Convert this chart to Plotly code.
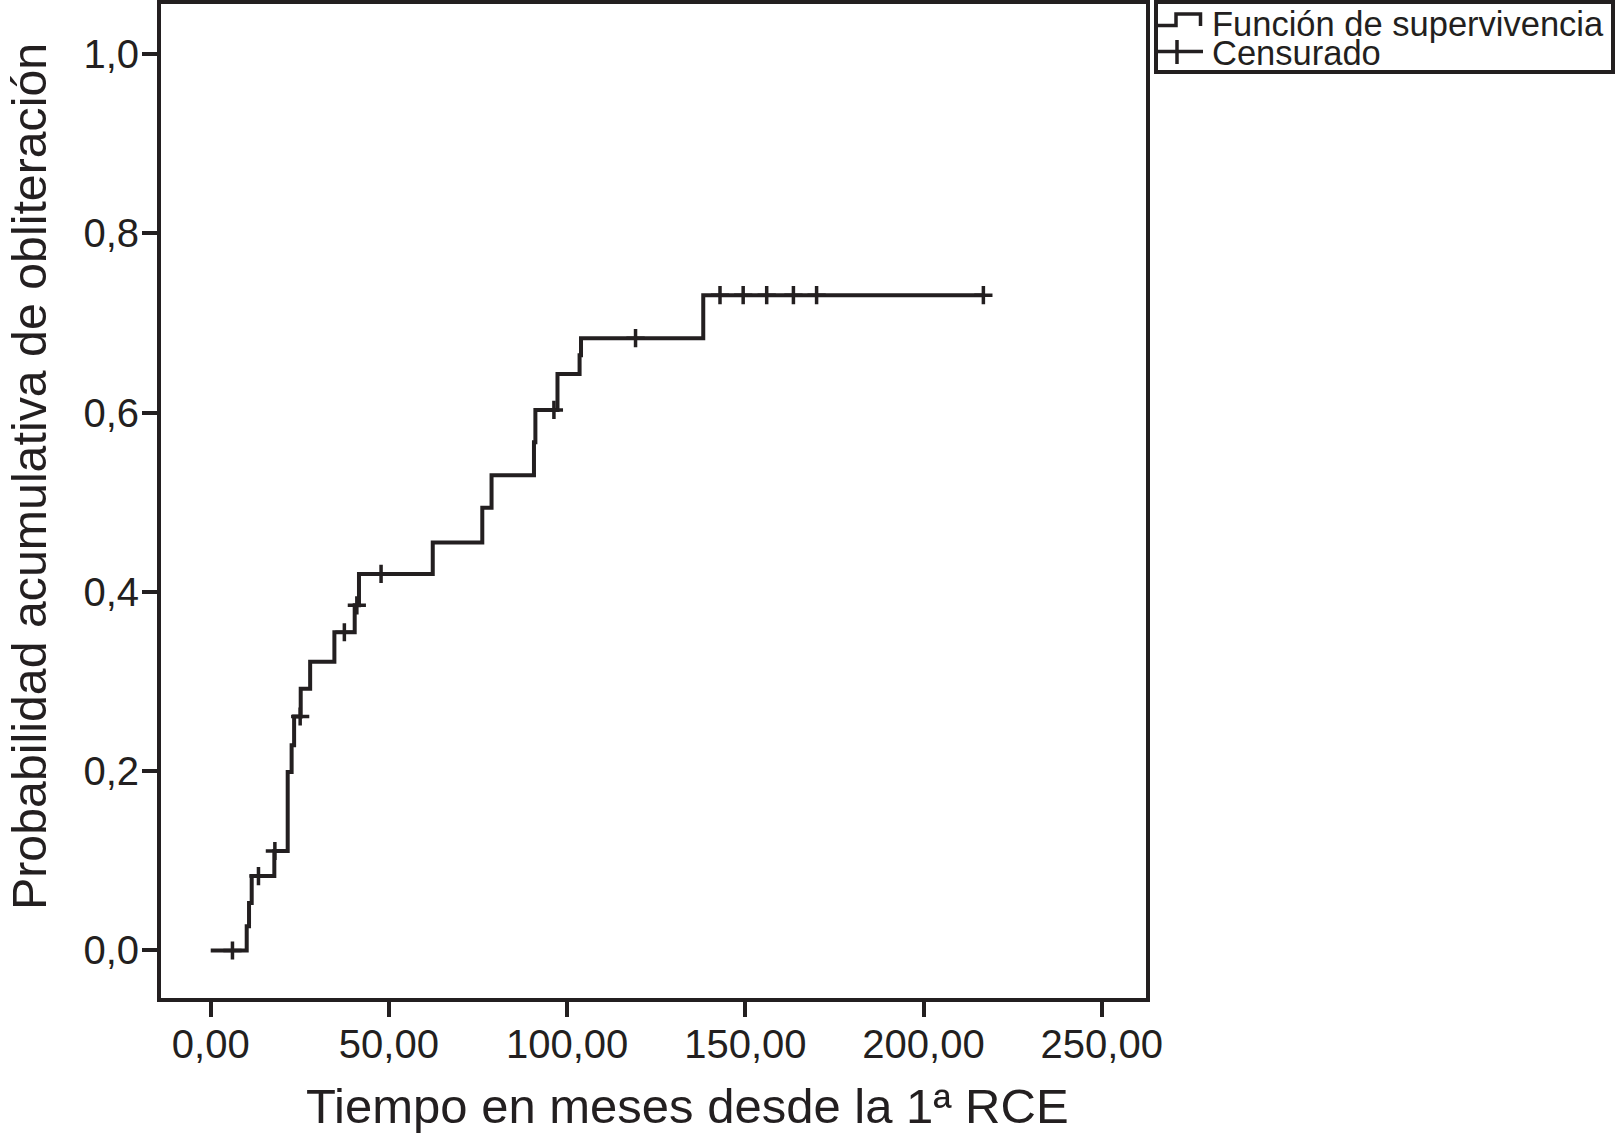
import plotly.graph_objects as go

# ---- data ----
step_times = [0.0, 10.1, 10.75, 11.5, 17.85, 21.6, 22.7, 23.4, 25.25, 27.9, 34.7,
              40.4, 41.6, 62.3, 76.2, 78.8, 90.7, 91.1, 97.3, 103.5, 103.9, 138.2]
step_probs = [0.0, 0.027, 0.053, 0.083, 0.111, 0.199, 0.229, 0.261, 0.292, 0.322, 0.355,
              0.385, 0.420, 0.455, 0.494, 0.530, 0.567, 0.603, 0.643, 0.664, 0.683, 0.731]
censor_times = [6.1, 13.4, 18.0, 25.1, 37.5, 41.0, 47.8, 96.3, 119.2,
                142.9, 149.4, 156.0, 163.5, 170.0, 216.8]
censor_probs = [0.0, 0.083, 0.111, 0.261, 0.355, 0.385, 0.420, 0.603, 0.683,
                0.731, 0.731, 0.731, 0.731, 0.731, 0.731]
x_tickvals = [0, 50, 100, 150, 200, 250]
x_ticktext = ["0,00", "50,00", "100,00", "150,00", "200,00", "250,00"]
y_tickvals = [0.0, 0.2, 0.4, 0.6, 0.8, 1.0]
y_ticktext = ["0,0", "0,2", "0,4", "0,6", "0,8", "1,0"]
x_title = "Tiempo en meses desde la 1ª RCE"
y_title = "Probabilidad acumulativa de obliteración"
legend_labels = ["Función de supervivencia", "Censurado"]

# ---- style ----
INK = "#231f20"
FONT = "Liberation Sans, Arial, Helvetica, sans-serif"
W, H = 1617, 1145
L, R, T, B = 161, 1146, 4, 998  # inner plot area in px

def px(x):
    return (x - L) / (R - L)

def py(y):
    return (B - y) / (B - T)

# curve extends to last follow-up (last censored time)
line_x = step_times + [censor_times[-1]]
line_y = step_probs + [step_probs[-1]]

fig = go.Figure()
fig.add_trace(go.Scatter(
    x=line_x, y=line_y, mode="lines", line=dict(shape="hv", color=INK, width=4),
    showlegend=False, hoverinfo="skip"))
fig.add_trace(go.Scatter(
    x=censor_times, y=censor_probs, mode="markers",
    marker=dict(symbol="cross-thin", size=13, line=dict(color=INK, width=3.5)),
    showlegend=False, hoverinfo="skip"))

axis_common = dict(
    showline=True, linecolor=INK, linewidth=4, mirror=True,
    ticks="outside", ticklen=15, tickwidth=4, tickcolor=INK,
    showgrid=False, zeroline=False,
    tickfont=dict(family=FONT, size=40, color=INK),
)
fig.update_xaxes(range=[-13.95, 262.43], tickvals=x_tickvals, ticktext=x_ticktext,
                 ticklabelstandoff=-7, **axis_common)
fig.update_yaxes(range=[-0.053, 1.0558], tickvals=y_tickvals, ticktext=y_ticktext,
                 ticklabelstandoff=-5, **axis_common)

annotations = [
    dict(text=x_title, xref="paper", yref="paper", x=px(687), y=py(1106),
         xanchor="center", yanchor="middle", showarrow=False,
         font=dict(family=FONT, size=49, color=INK)),
    dict(text=y_title, xref="paper", yref="paper", x=px(29), y=py(477),
         xanchor="center", yanchor="middle", showarrow=False, textangle=-90,
         font=dict(family=FONT, size=48.3, color=INK)),
    dict(text=legend_labels[0], xref="paper", yref="paper", x=px(1210), y=py(24),
         xanchor="left", yanchor="middle", showarrow=False,
         font=dict(family=FONT, size=34.5, color=INK)),
    dict(text=legend_labels[1], xref="paper", yref="paper", x=px(1210), y=py(53),
         xanchor="left", yanchor="middle", showarrow=False,
         font=dict(family=FONT, size=34.5, color=INK)),
]

def path(points):
    s = ""
    for i, (x, y) in enumerate(points):
        s += ("M" if i == 0 else "L") + f"{px(x):.5f},{py(y):.5f} "
    return s.strip()

shapes = [
    dict(type="rect", xref="paper", yref="paper", x0=px(1156), x1=px(1613),
         y0=py(2), y1=py(72), line=dict(color=INK, width=4)),
    dict(type="path", xref="paper", yref="paper",
         path=path([(1157, 25.5), (1176, 25.5), (1176, 14), (1200.5, 14), (1200.5, 26)]),
         line=dict(color=INK, width=3.5)),
    dict(type="path", xref="paper", yref="paper",
         path=path([(1157, 51.5), (1203, 51.5)]), line=dict(color=INK, width=3.5)),
    dict(type="path", xref="paper", yref="paper",
         path=path([(1177, 40), (1177, 64)]), line=dict(color=INK, width=3.5)),
]

fig.update_layout(
    width=W, height=H,
    margin=dict(l=L, r=W - R, t=T, b=H - B, pad=0, autoexpand=False),
    paper_bgcolor="white", plot_bgcolor="white",
    annotations=annotations, shapes=shapes,
    font=dict(family=FONT, color=INK),
)

fig.write_html("out.html", config={"displayModeBar": False, "staticPlot": True},
               post_script="document.body.style.margin='0';document.body.style.padding='0';")
